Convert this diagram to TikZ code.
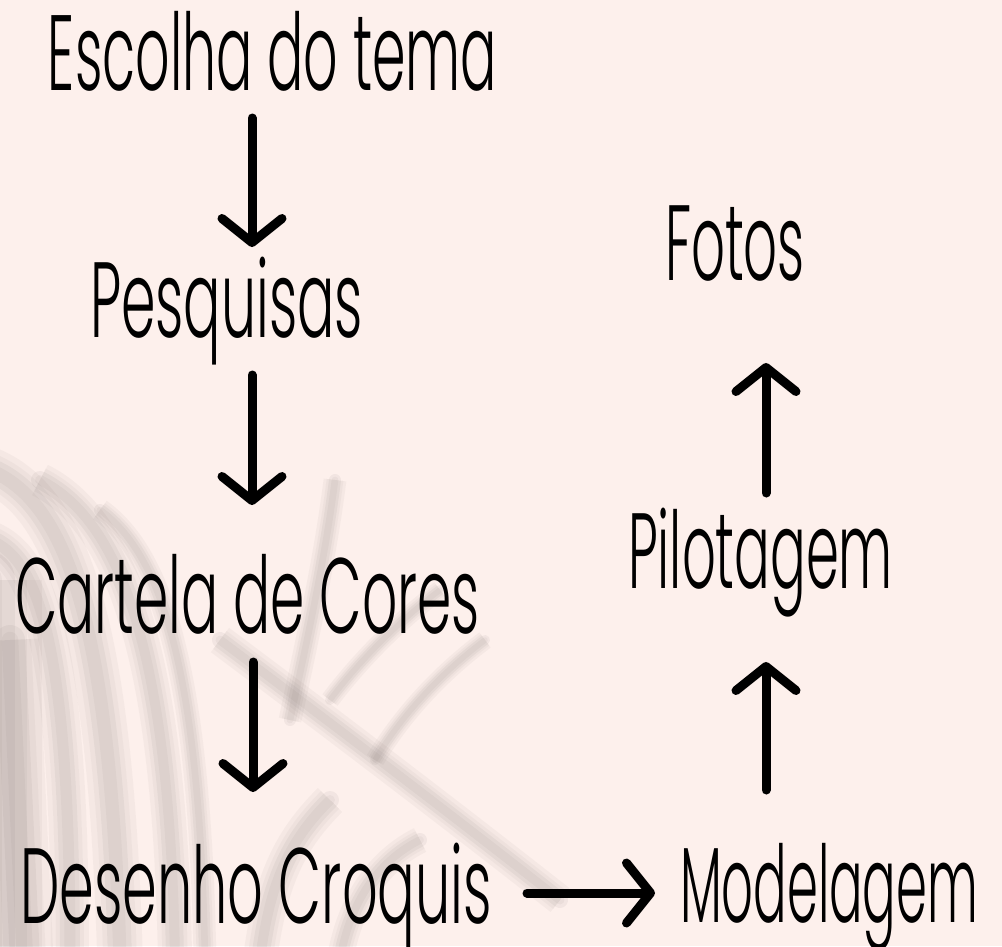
\documentclass[tikz,border=0pt]{standalone}
\usepackage{fontspec}
\setmainfont{Poppins}[UprightFont=* Light]
\usetikzlibrary{arrows.meta}
\definecolor{bgpink}{RGB}{253,240,236}
\definecolor{leafgray}{RGB}{110,98,95}
\newsavebox\fitbox
\newcommand\fitw[2]{\sbox\fitbox{#2}\pgfmathsetmacro\fitsc{#1/\the\wd\fitbox}\scalebox{\fitsc}[1]{\usebox\fitbox}}
\tikzset{
  lbl/.style={anchor=base west, inner sep=0pt, outer sep=0pt, text=black,
    font=\fontsize{107}{110}\selectfont},
  arr/.style={line width=9pt, line cap=round,
    -{Straight Barb[length=24pt, width=60pt, round]}},
  leaf/.style={draw=leafgray, line cap=round, draw opacity=0.07, line width=#1,
    preaction={draw=leafgray, draw opacity=0.05, line width=1.4*#1},
    preaction={draw=leafgray, draw opacity=0.05, line width=1.9*#1},
    postaction={draw=leafgray, draw opacity=0.06, line width=0.55*#1}},
}
\begin{document}
\begin{tikzpicture}[x=1pt, y=-1pt]
\useasboundingbox (0,0) rectangle (1002,946);
\fill[bgpink] (0,0) rectangle (1002,946);
% leaf shadow
\begin{scope}
\clip (0,0) rectangle (1002,946);
\path[leaf=60pt] (-15,580) -- (-15,960);
\path[leaf=30pt] (10,640) -- (25,960);
\path[leaf=24pt] (-10,470) .. controls (60,500) and (110,600) .. (120,960);
\path[leaf=20pt] (-10,540) .. controls (40,560) and (70,650) .. (70,960);
\path[leaf=18pt] (40,480) .. controls (120,520) and (170,650) .. (175,960);
\path[leaf=12pt] (100,510) .. controls (170,560) and (200,700) .. (205,960);
\path[leaf=16pt] (220,640) .. controls (300,700) and (420,790) .. (560,900);
\path[leaf=12pt] (335,480) .. controls (325,560) and (305,650) .. (290,720);
\path[leaf=10pt] (440,590) .. controls (400,620) and (360,660) .. (330,700);
\path[leaf=10pt] (485,640) .. controls (445,670) and (405,710) .. (375,760);
\path[leaf=18pt] (260,960) .. controls (270,880) and (290,840) .. (330,800);
\path[leaf=14pt] (340,960) .. controls (350,900) and (380,860) .. (420,840);
\end{scope}
% labels
\node[lbl] (esc) at (48,90) {\fitw{449}{Escolha do tema}};
\node[lbl] (pes) at (90,337) {\fitw{273}{Pesquisas}};
\node[lbl] (car) at (15,633) {\fitw{465}{Cartela de Cores}};
\node[lbl] (des) at (20,923) {\fitw{472}{Desenho Croquis}};
\node[lbl] (mod) at (680,922) {\fitw{298}{Modelagem}};
\node[lbl] (pil) at (628,588) {\fitw{265}{Pilotagem}};
\node[lbl] (fot) at (665,280) {\fitw{140}{Fotos}};
% connector ends
\coordinate (a1s) at (252,118); \coordinate (a1e) at (252,247);
\coordinate (a2s) at (252,375); \coordinate (a2e) at (252,505);
\coordinate (a3s) at (253,662); \coordinate (a3e) at (253,792);
\coordinate (a4s) at (527,893); \coordinate (a4e) at (655,893);
\coordinate (a5s) at (766,790); \coordinate (a5e) at (766,662);
\coordinate (a6s) at (766,493); \coordinate (a6e) at (766,363);
\draw[arr] (a1s) -- (a1e);
\draw[arr] (a2s) -- (a2e);
\draw[arr] (a3s) -- (a3e);
\draw[arr] (a4s) -- (a4e);
\draw[arr] (a5s) -- (a5e);
\draw[arr] (a6s) -- (a6e);
\end{tikzpicture}
\end{document}
